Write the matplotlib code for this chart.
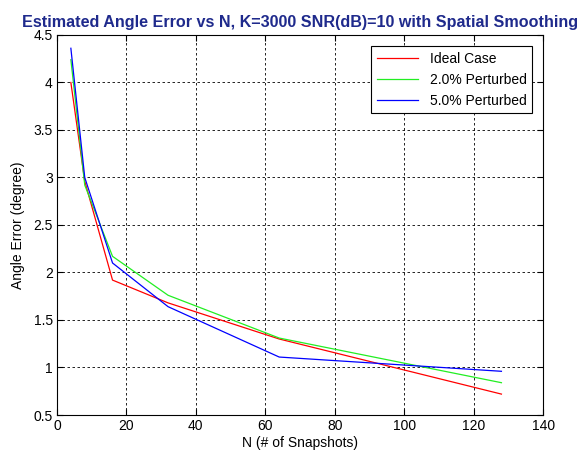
# coding=utf-8
"""
Error de angulo estimado vs N
"""

import matplotlib
matplotlib.use('Agg')
import matplotlib.pyplot as plt

# Datos
n_snapshots = [4, 8, 16, 32, 64, 128]
err_ideal = [4.00, 2.96, 1.92, 1.68, 1.30, 0.72]
err_2pct = [4.24, 2.92, 2.17, 1.76, 1.31, 0.84]
err_5pct = [4.36, 3.00, 2.10, 1.64, 1.11, 0.96]
labels = ['Ideal Case', '2.0% Perturbed', '5.0% Perturbed']

plt.rcParams['font.family'] = ['Liberation Sans', 'DejaVu Sans']

fig = plt.figure(figsize=(5.79, 4.54), dpi=100)
ax = fig.add_axes([0.0984, 0.0859, 0.8396, 0.8371])

ax.plot(n_snapshots, err_ideal, color='#ff0000', lw=0.9, label=labels[0])
ax.plot(n_snapshots, err_2pct, color='#22ee22', lw=0.9, label=labels[1])
ax.plot(n_snapshots, err_5pct, color='#0000ff', lw=0.9, label=labels[2])

ax.set_xlim(0, 140)
ax.set_ylim(0.5, 4.5)
ax.set_xticks(range(0, 141, 20))
ax.set_yticks([0.5, 1, 1.5, 2, 2.5, 3, 3.5, 4, 4.5])
ax.set_yticklabels(['0.5', '1', '1.5', '2', '2.5', '3', '3.5', '4', '4.5'])
ax.grid(True, color='black', linestyle=(0, (3, 3)), linewidth=0.6)
ax.tick_params(direction='in', labelsize=10, length=4, top=True, right=True,
               pad=3)
for s in ax.spines.values():
    s.set_linewidth(0.8)

ax.set_xlabel('N (# of Snapshots)', fontsize=10, labelpad=2)
ax.set_ylabel('Angle Error (degree)', fontsize=10, labelpad=6)
ax.set_title('Estimated Angle Error vs N, K=3000 SNR(dB)=10 with Spatial Smoothing',
             fontsize=11.6, fontweight='bold', color='#1f2a8c', pad=6)

leg = ax.legend(loc='upper right', fontsize=10, fancybox=False, framealpha=1,
                edgecolor='black', handlelength=3, borderaxespad=0.8)
leg.get_frame().set_linewidth(0.8)

fig.savefig('out.png', dpi=100)
